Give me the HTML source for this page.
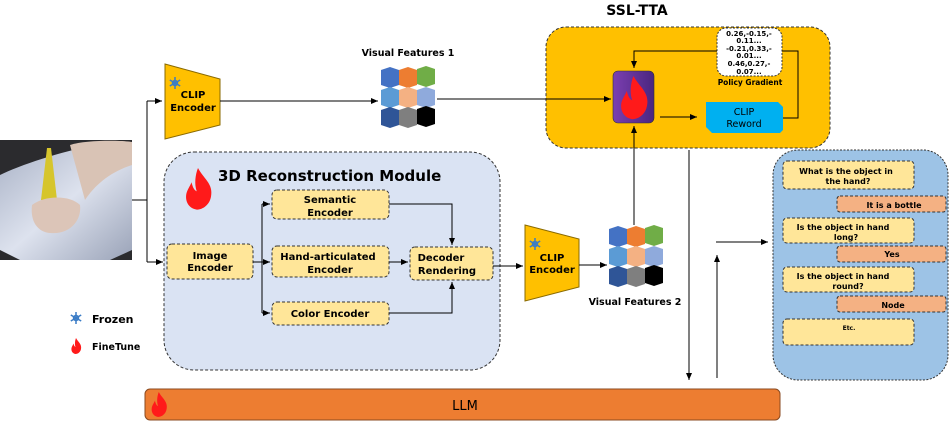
<!DOCTYPE html>
<html><head><meta charset="utf-8"><style>
html,body{margin:0;padding:0;background:#fff;}
svg{display:block;font-family:"DejaVu Sans","Liberation Sans",sans-serif;}
.b{font-weight:bold;}
</style></head><body>
<svg width="952" height="423" viewBox="0 0 952 423" xmlns="http://www.w3.org/2000/svg">
<defs>
<marker id="ar" markerWidth="8" markerHeight="8" refX="7" refY="4" orient="auto" markerUnits="userSpaceOnUse"><path d="M0,1 L7,4 L0,7 z" fill="#000"/></marker>
<linearGradient id="pg" x1="0" x2="1"><stop offset="0" stop-color="#7b3fb0"/><stop offset="1" stop-color="#4a2680"/></linearGradient>
<linearGradient id="cloth" x1="0" y1="0" x2="1" y2="1"><stop offset="0" stop-color="#a9b2c6"/><stop offset="0.5" stop-color="#dde2ee"/><stop offset="1" stop-color="#9aa3b8"/></linearGradient>
<g id="flame"><path d="M10,0 C14,8 22,12 20,22 C19,28 14,32 9,32 C3,31 0,26 1,20 C2,16 4,14 5,11 C6,15 7,17 9,18 C7,12 8,5 10,0 z" fill="#ff1a1a"/></g>
<g id="snow" stroke="#3a7cc6" stroke-width="1.5" fill="none"><path d="M6,0 V12 M0.8,3 L11.2,9 M0.8,9 L11.2,3"/><circle cx="6" cy="6" r="2.5"/></g>
<g id="cube"><polygon points="0,3 9,0 18,3 18,18 9,21 0,18"/></g>
<g id="cubes">
<use href="#cube" x="0" y="0" fill="#4472c4"/><use href="#cube" x="18" y="0" fill="#ed7d31"/><use href="#cube" x="36" y="-1" fill="#70ad47"/>
<use href="#cube" x="0" y="20" fill="#5b9bd5"/><use href="#cube" x="18" y="20" fill="#f4b183"/><use href="#cube" x="36" y="20" fill="#8faadc"/>
<use href="#cube" x="0" y="40" fill="#2f5597"/><use href="#cube" x="18" y="40" fill="#7f7f7f"/><use href="#cube" x="36" y="39" fill="#000"/>
</g>
</defs>

<!-- photo -->
<rect x="0" y="140" width="132" height="120" fill="#2b2b2e"/>
<path d="M0,175 C20,165 60,152 95,145 L132,145 L132,250 L110,260 L20,260 L0,250 z" fill="url(#cloth)"/>
<path d="M70,145 C85,140 120,140 132,142 L132,165 C110,172 95,185 85,200 z" fill="#d9c3b5"/>
<polygon points="47,148 51,148 57,200 41,200" fill="#d6c52c"/>
<path d="M32,205 C45,195 70,195 80,205 C82,220 70,235 50,233 C38,232 30,222 32,205 z" fill="#dcc5b8"/>

<!-- connectors from image -->
<path d="M132,200 H147 M147,101 V262" stroke="#000" stroke-width="1" fill="none"/>
<path d="M147,101 H162" stroke="#000" stroke-width="1" marker-end="url(#ar)"/>
<path d="M147,262 H163" stroke="#000" stroke-width="1" marker-end="url(#ar)"/>

<!-- CLIP encoder 1 -->
<polygon points="165,64 220,79 220,125 165,139" fill="#ffc000" stroke="#8a6a00" stroke-width="1"/>
<use href="#snow" x="169" y="77"/>
<text x="193" y="98" font-size="10" class="b" text-anchor="middle">CLIP</text>
<text x="193" y="111" font-size="10" class="b" text-anchor="middle">Encoder</text>
<path d="M220,101 H378" stroke="#000" marker-end="url(#ar)"/>

<!-- VF1 -->
<text x="408" y="56" font-size="9.5" class="b" text-anchor="middle">Visual Features 1</text>
<use href="#cubes" x="381" y="67"/>

<!-- SSL-TTA -->
<text x="637" y="15" font-size="14" class="b" text-anchor="middle">SSL-TTA</text>
<rect x="546" y="27" width="284" height="121" rx="20" fill="#ffc000" stroke="#333" stroke-dasharray="3,2"/>
<path d="M437,99 H611" stroke="#000" marker-end="url(#ar)"/>
<rect x="613" y="71" width="41" height="52" rx="5" fill="url(#pg)" stroke="#333" stroke-width="0.6"/>
<g transform="translate(620,76) scale(1.35)"><use href="#flame"/></g>
<rect x="717" y="28" width="65" height="48" rx="9" fill="#fff" stroke="#333" stroke-dasharray="2,1.5"/>
<g font-size="7" class="b" text-anchor="middle">
<text x="749" y="36">0.26,-0.15,-</text><text x="749" y="43">0.11...</text>
<text x="749" y="51">-0.21,0.33,-</text><text x="749" y="58">0.01...</text>
<text x="749" y="66">0.46,0.27,-</text><text x="749" y="74">0.07...</text>
</g>
<text x="750" y="85" font-size="7.5" class="b" text-anchor="middle">Policy Gradient</text>
<path d="M717,51 H634 V68" stroke="#000" fill="none" marker-end="url(#ar)"/>
<path d="M660,117 H697" stroke="#000" marker-end="url(#ar)"/>
<polygon points="706,102 778,102 783,107 783,130 780,133 712,133 706,127" fill="#00b0f0"/>
<text x="744" y="115" font-size="9.5" text-anchor="middle">CLIP</text>
<text x="744" y="127" font-size="9.5" text-anchor="middle">Reword</text>
<path d="M783,118 H798 V51 H782" stroke="#000" fill="none"/>
<path d="M634,225 V126" stroke="#000" marker-end="url(#ar)"/>

<!-- 3D module -->
<rect x="164" y="152" width="336" height="218" rx="30" fill="#dae3f3" stroke="#333" stroke-dasharray="3,2"/>
<g transform="translate(185,168) scale(1.3)"><use href="#flame"/></g>
<text x="218" y="181" font-size="15" class="b">3D Reconstruction Module</text>
<g fill="#ffe699" stroke="#333" stroke-dasharray="3,2">
<rect x="167" y="244" width="86" height="35" rx="5"/>
<rect x="272" y="190" width="117" height="29" rx="5"/>
<rect x="272" y="246" width="117" height="31" rx="5"/>
<rect x="272" y="302" width="117" height="23" rx="5"/>
<rect x="410" y="247" width="83" height="33" rx="5"/>
</g>
<g font-size="10" class="b" text-anchor="middle">
<text x="210" y="259">Image</text><text x="210" y="271">Encoder</text>
<text x="330" y="203">Semantic</text><text x="330" y="216">Encoder</text>
<text x="328" y="260">Hand-articulated</text><text x="330" y="273">Encoder</text>
<text x="330" y="317">Color Encoder</text>
<text x="441" y="261">Decoder</text><text x="447" y="274">Rendering</text>
</g>
<path d="M253,262 H262 M262,204 V313" stroke="#000" fill="none"/>
<path d="M262,204 H270" stroke="#000" marker-end="url(#ar)"/>
<path d="M262,262 H270" stroke="#000" marker-end="url(#ar)"/>
<path d="M262,313 H270" stroke="#000" marker-end="url(#ar)"/>
<path d="M389,204 H452 V245" stroke="#000" fill="none" marker-end="url(#ar)"/>
<path d="M389,313 H452 V282" stroke="#000" fill="none" marker-end="url(#ar)"/>
<path d="M389,262 H408" stroke="#000" marker-end="url(#ar)"/>
<path d="M493,266 H523" stroke="#000" marker-end="url(#ar)"/>

<!-- CLIP encoder 2 -->
<polygon points="525,225 579,239 579,287 525,301" fill="#ffc000" stroke="#8a6a00"/>
<use href="#snow" x="529" y="238"/>
<text x="552" y="261" font-size="10" class="b" text-anchor="middle">CLIP</text>
<text x="552" y="273" font-size="10" class="b" text-anchor="middle">Encoder</text>
<path d="M579,265 H607" stroke="#000" marker-end="url(#ar)"/>
<use href="#cubes" x="609" y="226"/>
<text x="635" y="305" font-size="9.5" class="b" text-anchor="middle">Visual Features 2</text>

<!-- vertical LLM lines -->
<path d="M689,150 V380" stroke="#000" marker-end="url(#ar)"/>
<path d="M717,378 V255" stroke="#000" marker-end="url(#ar)"/>
<path d="M716,242 H768" stroke="#000" marker-end="url(#ar)"/>

<!-- right panel -->
<rect x="773" y="150" width="175" height="230" rx="25" fill="#9dc3e6" stroke="#333" stroke-dasharray="2,1.5"/>
<g stroke="#333" stroke-dasharray="3,2">
<rect x="783" y="161" width="131" height="28" rx="4" fill="#ffe699"/>
<rect x="837" y="196" width="109" height="16" rx="3" fill="#f4b183"/>
<rect x="783" y="218" width="131" height="25" rx="4" fill="#ffe699"/>
<rect x="837" y="246" width="109" height="16" rx="3" fill="#f4b183"/>
<rect x="783" y="267" width="131" height="25" rx="4" fill="#ffe699"/>
<rect x="837" y="296" width="109" height="16" rx="3" fill="#f4b183"/>
<rect x="783" y="319" width="131" height="26" rx="4" fill="#ffe699"/>
</g>
<g font-size="8" class="b" text-anchor="middle">
<text x="846" y="174">What is the object in</text><text x="848" y="184">the hand?</text>
<text x="894" y="208">It is a bottle</text>
<text x="843" y="230">Is the object in hand</text><text x="846" y="240">long?</text>
<text x="892" y="257">Yes</text>
<text x="843" y="279">Is the object in hand</text><text x="848" y="289">round?</text>
<text x="893" y="308">Node</text>
<text x="849" y="330" font-size="6">Etc.</text>
</g>

<!-- LLM -->
<rect x="145" y="389" width="635" height="31" rx="5" fill="#ed7d31" stroke="#8a4a20"/>
<g transform="translate(151,392) scale(0.78)"><use href="#flame"/></g>
<text x="465" y="410" font-size="13" text-anchor="middle">LLM</text>

<!-- legend -->
<use href="#snow" x="70" y="312"/>
<text x="92" y="323" font-size="11" class="b">Frozen</text>
<g transform="translate(71,338) scale(0.5)"><use href="#flame"/></g>
<text x="92" y="350" font-size="9.5" class="b">FineTune</text>
</svg>
</body></html>
